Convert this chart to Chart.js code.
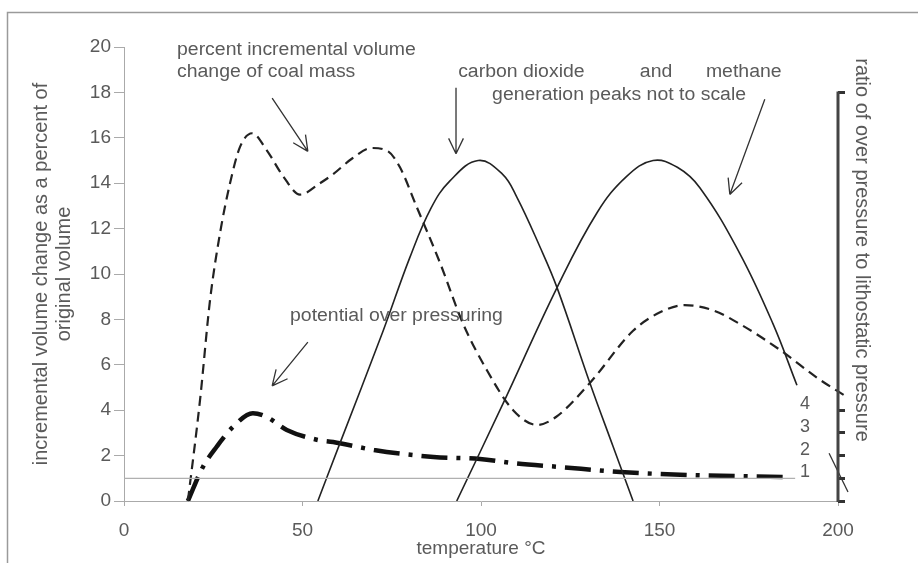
<!DOCTYPE html>
<html>
<head>
<meta charset="utf-8">
<script src="https://cdn.jsdelivr.net/npm/chart.js@4.4.1/dist/chart.umd.min.js"></script>
<style>
  html, body { margin: 0; padding: 0; background: #fff; }
  #wrap { width: 918px; height: 563px; }
</style>
</head>
<body>
<div id="wrap"><canvas id="chart" width="918" height="563"></canvas></div>
<script>
// temperature (°C) and values
const coalT = [17.9, 21.3, 24.1, 26.9, 29.7, 32.5, 35.9, 40, 44.6, 49.3, 54.9, 58.6, 64, 69.4, 74, 77.3, 82, 88.5, 95, 101.7, 109, 115.7, 121, 130.5, 142.6, 150, 157, 165, 172.5, 183.8, 194.4, 202.5];
const coalV = [0, 4.45, 8.85, 11.8, 14.0, 15.6, 16.2, 15.45, 14.3, 13.5, 14.0, 14.4, 15.1, 15.55, 15.4, 14.7, 12.95, 10.5, 7.8, 5.75, 4.0, 3.35, 3.7, 5.2, 7.5, 8.3, 8.63, 8.4, 7.8, 6.65, 5.4, 4.58];

const co2T = [54.3, 60.5, 72.6, 80, 86, 91.3, 99.2, 106, 110, 116.5, 121.3, 130.5, 137, 142.6];
const co2V = [0, 2.55, 7.5, 10.7, 12.9, 14.1, 15, 14.4, 13.4, 11.2, 9.4, 5.2, 2.4, 0];

const ch4T = [93.2, 106.2, 121.3, 132.5, 140.8, 148.2, 155, 161.3, 172.5, 181.8, 188.5];
const ch4V = [0, 4.3, 9.4, 12.7, 14.3, 15, 14.7, 13.8, 10.9, 7.8, 5.1];

const overT = [17.9, 22.1, 26, 30.5, 36.1, 40, 45.6, 54, 58.6, 70, 86.7, 99.7, 110, 122, 139, 159, 184.6, 187];
const overV = [0, 1.5, 2.4, 3.26, 3.87, 3.7, 3.13, 2.7, 2.6, 2.25, 1.94, 1.85, 1.65, 1.5, 1.28, 1.14, 1.06, 1.05];

const lithoT = [0, 188];
const lithoV = [1, 1];

const markT = [197.5, 202.8];
const markV = [2.1, 0.4];

const ratioTicks = [0, 1, 2, 3, 4, 18];
const ratioLabels = ['', '1', '2', '3', '4', ''];

const FONT = '"Liberation Sans", Arial, sans-serif';
const GREY = '#5a5a5a';
const INK = '#222';

// annotation text and arrows, placed in data units
const notes = [
  { t: 'percent incremental volume', x: 14.85, y: 19.65 },
  { t: 'change of coal mass', x: 14.85, y: 18.68 },
  { t: 'carbon dioxide', x: 93.6, y: 18.68 },
  { t: 'and', x: 144.5, y: 18.68 },
  { t: 'methane', x: 163, y: 18.68 },
  { t: 'generation peaks not to scale', x: 103.1, y: 17.67 },
  { t: 'potential over pressuring', x: 46.5, y: 7.93 }
];
const arrows = [
  { x1: 41.5, y1: 17.75, x2: 51.5, y2: 15.4 },
  { x1: 93, y1: 18.2, x2: 93, y2: 15.3 },
  { x1: 179.5, y1: 17.7, x2: 169.7, y2: 13.5 },
  { x1: 51.5, y1: 7.0, x2: 41.5, y2: 5.07 }
];

const pts = (xs, ys) => xs.map((x, i) => ({ x: x, y: ys[i] }));

const frame = {
  id: 'frame',
  beforeDraw(chart) {
    const ctx = chart.ctx;
    ctx.save();
    ctx.fillStyle = '#fff';
    ctx.fillRect(0, 0, chart.width, chart.height);
    ctx.strokeStyle = '#9a9a9a';
    ctx.lineWidth = 1.5;
    ctx.beginPath();
    ctx.moveTo(7.5, chart.height);
    ctx.lineTo(7.5, 12.5);
    ctx.lineTo(chart.width, 12.5);
    ctx.stroke();
    ctx.restore();
  },
  afterDraw(chart) {
    const ctx = chart.ctx;
    const xs = chart.scales.x, ys = chart.scales.y, r = chart.scales.y2;
    ctx.save();

    // right ratio axis line, 0 to 18
    ctx.strokeStyle = '#444';
    ctx.lineWidth = 3;
    ctx.beginPath();
    ctx.moveTo(r.left, r.getPixelForValue(18) - 1);
    ctx.lineTo(r.left, r.getPixelForValue(0) + 1);
    ctx.stroke();

    ctx.fillStyle = GREY;
    ctx.font = '18px ' + FONT;
    ctx.textBaseline = 'alphabetic';
    ctx.textAlign = 'left';
    for (const n of notes) {
      ctx.save();
      ctx.translate(xs.getPixelForValue(n.x), ys.getPixelForValue(n.y));
      ctx.scale(1.08, 1);
      ctx.fillText(n.t, 0, 0);
      ctx.restore();
    }

    ctx.strokeStyle = '#333';
    ctx.lineWidth = 1.3;
    for (const a of arrows) {
      const x1 = xs.getPixelForValue(a.x1), y1 = ys.getPixelForValue(a.y1);
      const x2 = xs.getPixelForValue(a.x2), y2 = ys.getPixelForValue(a.y2);
      const ang = Math.atan2(y2 - y1, x2 - x1);
      ctx.beginPath();
      ctx.moveTo(x1, y1);
      ctx.lineTo(x2, y2);
      for (const s of [-1, 1]) {
        ctx.moveTo(x2, y2);
        ctx.lineTo(x2 - 17 * Math.cos(ang + s * 0.45), y2 - 17 * Math.sin(ang + s * 0.45));
      }
      ctx.stroke();
    }

    // right axis title
    ctx.save();
    ctx.translate(r.left + 24, (ys.getPixelForValue(0) + ys.getPixelForValue(20)) / 2 - 24);
    ctx.rotate(Math.PI / 2);
    ctx.textAlign = 'center';
    ctx.textBaseline = 'middle';
    ctx.font = '20px ' + FONT;
    ctx.fillText('ratio of over pressure to lithostatic pressure', 0, 0);
    ctx.restore();

    ctx.restore();
  }
};

new Chart(document.getElementById('chart'), {
  type: 'line',
  data: {
    datasets: [
      { data: pts(lithoT, lithoV), borderColor: '#b0b0b0', borderWidth: 1.2, pointRadius: 0 },
      { data: pts(coalT, coalV), borderColor: INK, borderWidth: 2.2, borderDash: [10, 6], pointRadius: 0, cubicInterpolationMode: 'monotone', clip: false },
      { data: pts(co2T, co2V), borderColor: INK, borderWidth: 1.6, pointRadius: 0, tension: 0.4 },
      { data: pts(ch4T, ch4V), borderColor: INK, borderWidth: 1.6, pointRadius: 0, tension: 0.4 },
      { data: pts(overT, overV), borderColor: '#111', borderWidth: 4.5, borderDash: [26, 9, 4, 9], pointRadius: 0, cubicInterpolationMode: 'monotone' },
      { data: pts(markT, markV), borderColor: '#333', borderWidth: 1.3, pointRadius: 0, clip: false }
    ]
  },
  options: {
    responsive: false,
    animation: false,
    layout: { padding: { top: 47, right: 0, bottom: 0, left: 0 } },
    plugins: { legend: { display: false }, tooltip: { enabled: false } },
    scales: {
      x: {
        type: 'linear', min: 0, max: 200,
        ticks: { stepSize: 50, color: GREY, font: { family: FONT, size: 19 }, padding: 13 },
        grid: { drawOnChartArea: false, tickLength: 5, color: '#aaa' },
        border: { color: '#aaa' },
        title: { display: true, text: 'temperature °C', color: GREY, font: { family: FONT, size: 19 }, padding: { top: 0, bottom: 3 } },
        afterFit(s) { s.height = 62; }
      },
      y: {
        min: 0, max: 20,
        ticks: { stepSize: 2, color: GREY, font: { family: FONT, size: 19 }, padding: 3 },
        grid: { drawOnChartArea: false, tickLength: 10, color: '#aaa' },
        border: { color: '#aaa' },
        title: {
          display: true,
          text: ['incremental volume change as a percent of', 'original volume'],
          color: GREY, font: { family: FONT, size: 20, lineHeight: 1.15 }, padding: { top: 30, bottom: 0 }
        },
        afterFit(s) { s.width = 124; }
      },
      y2: {
        position: 'right', min: 0, max: 20,
        afterBuildTicks(s) { s.ticks = ratioTicks.map(v => ({ value: v })); },
        ticks: {
          mirror: true, padding: -28, labelOffset: -6, color: GREY, font: { family: FONT, size: 18 },
          callback: (v, i) => ratioLabels[i]
        },
        grid: { drawOnChartArea: false, tickLength: 7, color: '#333', lineWidth: 3 },
        border: { display: false },
        afterFit(s) { s.width = 80; }
      }
    }
  },
  plugins: [frame]
});
</script>
</body>
</html>
